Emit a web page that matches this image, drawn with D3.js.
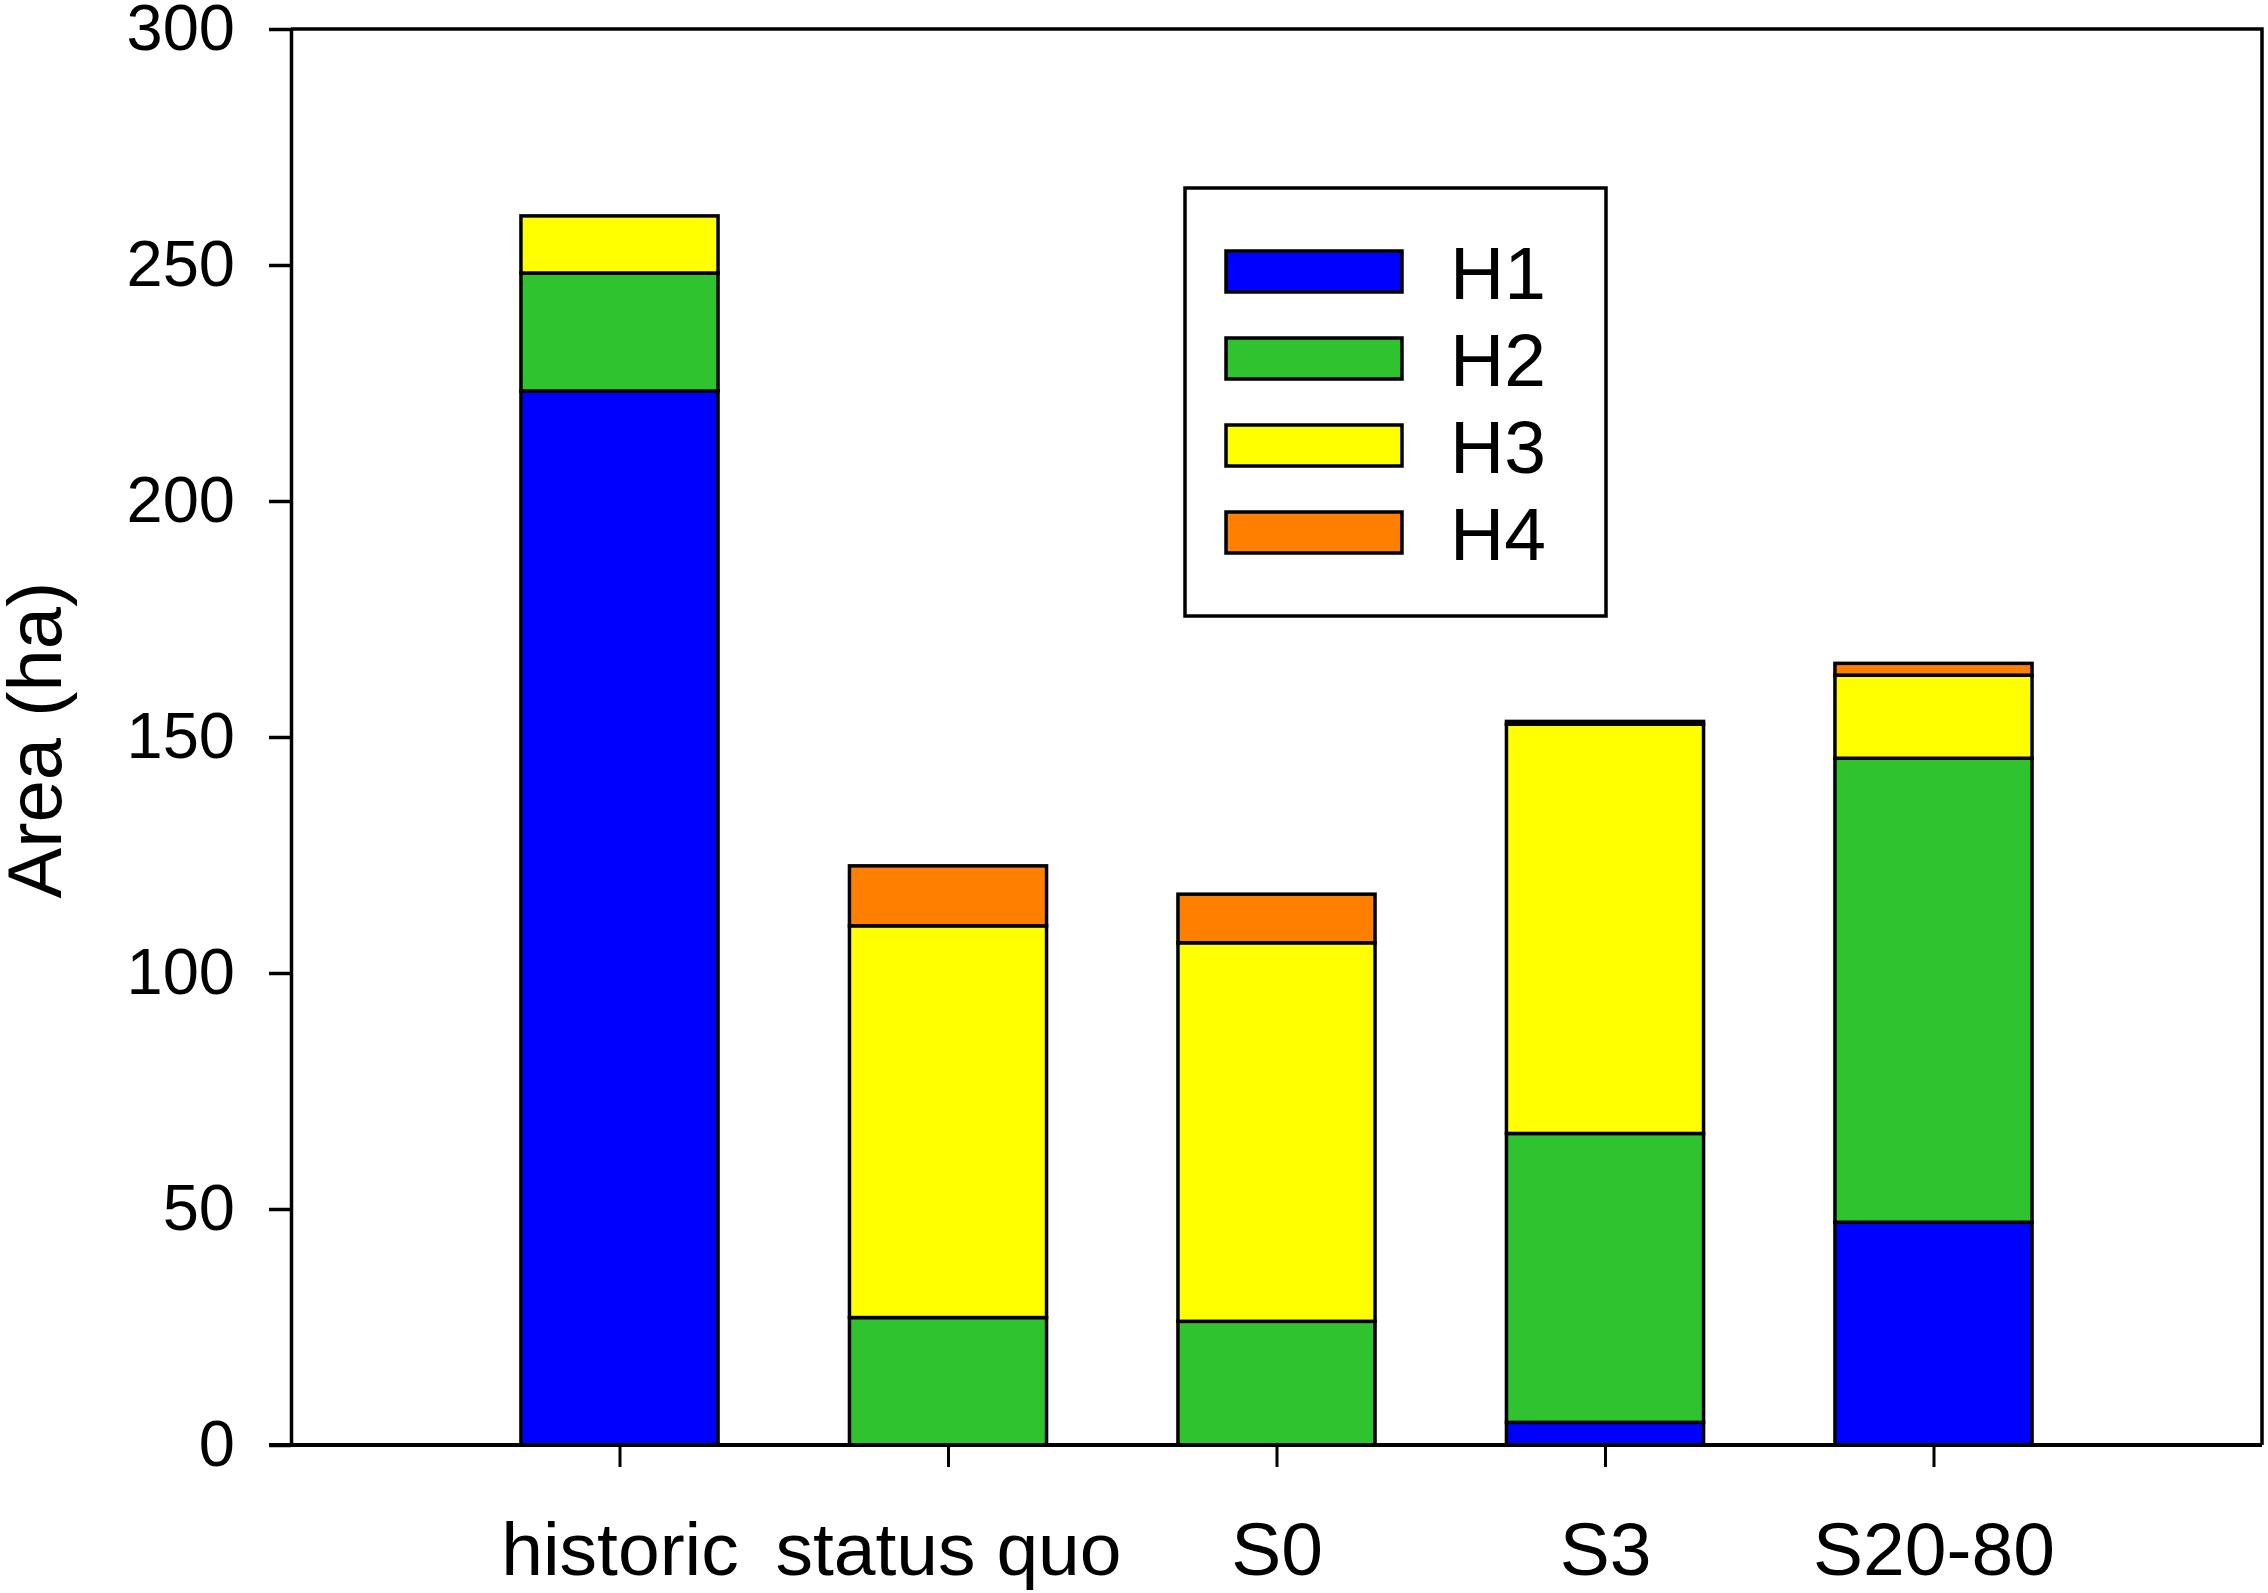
<!DOCTYPE html>
<html>
<head>
<meta charset="utf-8">
<script src="https://cdn.jsdelivr.net/npm/d3@7"></script>
<style>
  body { margin: 0; background: #fff; }
  text { font-family: "Liberation Sans", Arial, sans-serif; fill: #000; }
</style>
</head>
<body>
<div id="chart"></div>
<script>
"use strict";

// ---- data ----
var categories = ["historic", "status quo", "S0", "S3", "S20-80"];
var seriesNames = ["H1", "H2", "H3", "H4"];
var h1 = [223.3, 0, 0, 4.8, 47.2];
var h2 = [25.0, 27.0, 26.2, 61.2, 98.3];
var h3 = [12.1, 83.0, 80.2, 86.7, 17.6];
var h4 = [0, 12.7, 10.3, 0.6, 2.5];
var yTicks = [0, 50, 100, 150, 200, 250, 300];

var colors = ["#0000ff", "#2fc42f", "#ffff00", "#ff8000"];

// ---- layout ----
var W = 2268, H = 1593;
var plotLeft = 291, plotRight = 2262, plotTop = 29, plotBottom = 1445;

var svg = d3.select("#chart").append("svg")
  .attr("width", W)
  .attr("height", H);

// rows for the stack
var rows = categories.map(function(c, i){
  return { cat: c, H1: h1[i], H2: h2[i], H3: h3[i], H4: h4[i] };
});
var stacked = d3.stack().keys(seriesNames)(rows);

var x = d3.scalePoint().domain(categories).range([plotLeft, plotRight]).padding(1);
var y = d3.scaleLinear().domain([0, 300]).range([plotBottom, plotTop]);
var barW = x.step() * 0.6;

// bars
svg.append("g").selectAll("g")
  .data(stacked)
  .enter().append("g")
    .attr("fill", function(d, i){ return colors[i]; })
  .selectAll("rect")
  .data(function(d){ return d; })
  .enter().append("rect")
    .attr("x", function(d){ return x(d.data.cat) - barW / 2; })
    .attr("y", function(d){ return y(d[1]); })
    .attr("width", barW)
    .attr("height", function(d){ return y(d[0]) - y(d[1]); })
    .attr("stroke", "#000")
    .attr("stroke-width", 3.5);

// y axis
var yAxis = svg.append("g")
  .attr("transform", "translate(" + plotLeft + ",0)")
  .call(d3.axisLeft(y).tickValues(yTicks).tickSize(22).tickSizeOuter(0).tickPadding(34));
yAxis.select(".domain").attr("stroke-width", 3.5);
yAxis.selectAll(".tick line").attr("stroke-width", 3.5);
yAxis.selectAll(".tick text")
  .attr("font-size", 65)
  .attr("font-family", "Liberation Sans, Arial, sans-serif");

// x axis
var xAxis = svg.append("g")
  .attr("transform", "translate(0," + plotBottom + ")")
  .call(d3.axisBottom(x).tickSize(22).tickSizeOuter(0));
xAxis.select(".domain").attr("stroke-width", 4)
  .attr("d", "M" + (plotLeft - 22) + ",0H" + plotRight);
xAxis.selectAll(".tick line").attr("stroke-width", 3);
xAxis.selectAll(".tick text")
  .attr("font-size", 75)
  .attr("font-family", "Liberation Sans, Arial, sans-serif")
  .attr("y", 130)
  .attr("dy", 0);

// frame top and right
svg.append("path")
  .attr("d", "M" + plotLeft + "," + plotTop + "H" + plotRight + "V" + plotBottom)
  .attr("fill", "none")
  .attr("stroke", "#000")
  .attr("stroke-width", 3.5);

// y title
svg.append("text")
  .attr("transform", "translate(61," + ((plotTop + plotBottom) / 2 + 3) + ") rotate(-90)")
  .attr("text-anchor", "middle")
  .attr("font-size", 76)
  .text("Area (ha)");

// legend
var lg = svg.append("g");
lg.append("rect")
  .attr("x", 1185).attr("y", 188)
  .attr("width", 421).attr("height", 428)
  .attr("fill", "#fff")
  .attr("stroke", "#000")
  .attr("stroke-width", 3.5);

var item = lg.selectAll("g.item")
  .data(seriesNames)
  .enter().append("g")
    .attr("class", "item")
    .attr("transform", function(d, i){ return "translate(1226," + (251 + i * 87) + ")"; });
item.append("rect")
  .attr("width", 176).attr("height", 41)
  .attr("fill", function(d, i){ return colors[i]; })
  .attr("stroke", "#000")
  .attr("stroke-width", 3.5);
item.append("text")
  .attr("x", 224)
  .attr("y", 20.5)
  .attr("dy", "0.36em")
  .attr("font-size", 75)
  .text(function(d){ return d; });
</script>
</body>
</html>
